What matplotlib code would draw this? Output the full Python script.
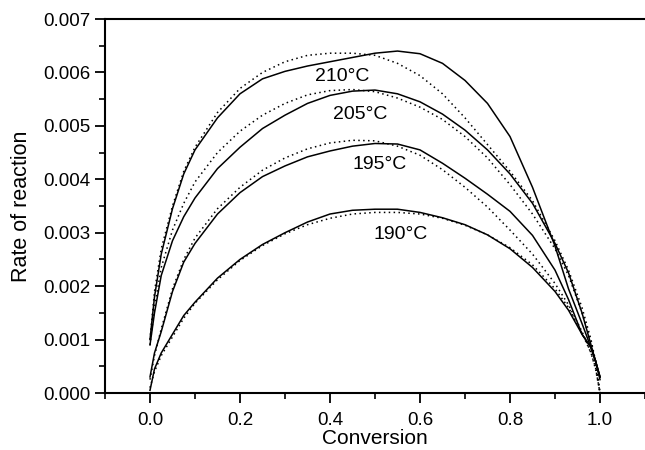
import matplotlib
matplotlib.use("Agg")
import matplotlib.pyplot as plt
from matplotlib.ticker import MultipleLocator, FormatStrFormatter

plt.rcParams['font.family'] = ['Liberation Sans', 'DejaVu Sans']

# conversion points shared by all curves
conversion = [0, 0.01, 0.025, 0.05, 0.075, 0.1, 0.15, 0.2, 0.25, 0.3, 0.35, 0.4,
              0.45, 0.5, 0.55, 0.6, 0.65, 0.7, 0.75, 0.8, 0.85, 0.9, 0.93, 0.96,
              0.98, 0.99, 1.0]

# rate of reaction, units of 1e-3 (solid = experiment, dotted = model)
exp_210 = [1.0, 1.8, 2.6, 3.45, 4.1, 4.55, 5.15, 5.6, 5.88, 6.02, 6.12, 6.2,
           6.28, 6.36, 6.4, 6.35, 6.17, 5.85, 5.42, 4.8, 3.85, 2.75, 1.95, 1.3,
           0.85, 0.6, 0.3]
mod_210 = [1.0, 1.9, 2.7, 3.5, 4.15, 4.6, 5.25, 5.7, 6.0, 6.2, 6.32, 6.36,
           6.36, 6.32, 6.17, 5.94, 5.6, 5.15, 4.65, 4.15, 3.6, 2.85, 2.3, 1.6,
           1.0, 0.6, 0.0]
exp_205 = [0.9, 1.5, 2.2, 2.85, 3.3, 3.65, 4.2, 4.6, 4.95, 5.2, 5.42, 5.57,
           5.65, 5.67, 5.6, 5.45, 5.22, 4.92, 4.55, 4.1, 3.55, 2.8, 2.25, 1.5,
           0.9, 0.6, 0.3]
mod_205 = [0.9, 1.6, 2.35, 3.05, 3.55, 3.95, 4.5, 4.9, 5.2, 5.42, 5.58, 5.66,
           5.68, 5.64, 5.52, 5.35, 5.12, 4.8, 4.4, 3.9, 3.35, 2.7, 2.2, 1.5,
           0.95, 0.6, 0.0]
exp_195 = [0.3, 0.75, 1.15, 1.9, 2.45, 2.8, 3.35, 3.75, 4.05, 4.25, 4.42, 4.53,
           4.62, 4.67, 4.66, 4.55, 4.3, 4.02, 3.72, 3.4, 2.95, 2.3, 1.75, 1.1,
           0.85, 0.6, 0.25]
mod_195 = [0.25, 0.7, 1.2, 1.95, 2.5, 2.9, 3.45, 3.85, 4.17, 4.4, 4.57, 4.68,
           4.73, 4.72, 4.62, 4.45, 4.18, 3.85, 3.48, 3.05, 2.6, 2.05, 1.65, 1.15,
           0.75, 0.45, 0.0]
exp_190 = [0.05, 0.45, 0.75, 1.1, 1.45, 1.7, 2.15, 2.5, 2.78, 3.0, 3.2, 3.35,
           3.42, 3.44, 3.44, 3.38, 3.28, 3.15, 2.96, 2.7, 2.35, 1.9, 1.55, 1.1,
           0.85, 0.6, 0.3]
mod_190 = [0.1, 0.4, 0.7, 1.05, 1.4, 1.68, 2.12, 2.48, 2.76, 2.98, 3.15, 3.27,
           3.35, 3.38, 3.38, 3.35, 3.27, 3.14, 2.96, 2.72, 2.4, 1.95, 1.6, 1.12,
           0.75, 0.48, 0.0]

labels = ['210°C', '205°C', '195°C', '190°C']
label_x = [0.427, 0.467, 0.511, 0.556]
label_y = [5.92, 5.21, 4.27, 2.96]

fig = plt.figure(figsize=(6.45, 4.5), dpi=100)
ax = fig.add_axes([105 / 645, 57 / 450, 540 / 645, 374 / 450])

scale = 1e-3
for exp, mod in [(exp_210, mod_210), (exp_205, mod_205),
                 (exp_195, mod_195), (exp_190, mod_190)]:
    ax.plot(conversion, [v * scale for v in exp], color='black', lw=1.1)
    ax.plot(conversion, [v * scale for v in mod], color='black', lw=1.1,
            linestyle=(0, (1, 2.2)))

for txt, lx, ly in zip(labels, label_x, label_y):
    ax.text(lx, ly * scale, txt, ha='center', va='center', fontsize=14)

ax.set_xlim(-0.1, 1.1)
ax.set_ylim(0, 0.007)
ax.xaxis.set_major_locator(MultipleLocator(0.2))
ax.xaxis.set_minor_locator(MultipleLocator(0.1))
ax.yaxis.set_major_locator(MultipleLocator(0.001))
ax.yaxis.set_minor_locator(MultipleLocator(0.0005))
ax.xaxis.set_major_formatter(FormatStrFormatter('%.1f'))
ax.yaxis.set_major_formatter(FormatStrFormatter('%.3f'))

ax.spines['right'].set_visible(False)
for s in ['left', 'bottom', 'top']:
    ax.spines[s].set_linewidth(1.5)
ax.tick_params(which='major', direction='out', length=7, width=1.3,
               labelsize=13.5, top=False, right=False)
ax.tick_params(axis='x', which='major', pad=7)
ax.tick_params(which='minor', direction='out', length=4, width=1.2,
               top=False, right=False)

ax.set_xlabel('Conversion', fontsize=15, labelpad=0)
ax.set_ylabel('Rate of reaction', fontsize=15.5, labelpad=8)

fig.savefig('out.png', dpi=100)
